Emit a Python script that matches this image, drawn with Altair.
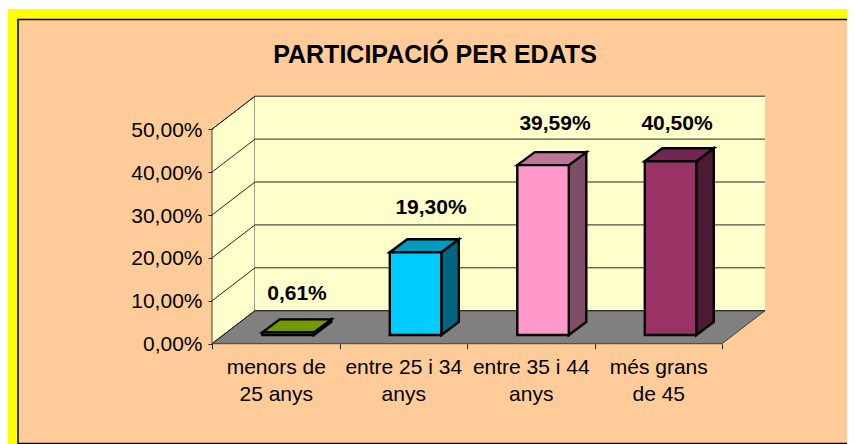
import json
import altair as alt
import pandas as pd

title_text = "PARTICIPACIÓ PER EDATS"
categories = [["menors de", "25 anys"], ["entre 25 i 34", "anys"], ["entre 35 i 44", "anys"], ["més grans", "de 45"], ""]
values = [0.61, 19.30, 39.59, 40.50]
y_ticks = [0, 10, 20, 30, 40, 50]
x_ticks = [0, 1, 2, 3, 4]
front_colors = ["#99CC00", "#00CCFF", "#FF99CC", "#993366"]
top_colors = ["#739900", "#0099BF", "#BF7399", "#732650"]
side_colors = ["#4D6600", "#006680", "#804D66", "#4D1A33"]

FONT = "Liberation Sans"
W, H = 839, 436
X0, UX = 204.0, 127.5      # canvas px of category 0, px per category
Y0, UY = 335.7, 4.29       # canvas px of 0 %, px per 1 %
X_DOM = [-X0 / UX, (W - X0) / UX]
Y_DOM = [(Y0 - H) / UY, Y0 / UY]
DX, DY = 43 / UX, 33 / UY  # floor depth in data units
BAR_X, BAR_W = 0.3945, 0.404
BAR_BASE = 8.7 / UY
BDX, BDY = 17.5 / UX, 13 / UY

xs = alt.Scale(domain=X_DOM, nice=False, zero=False)
ys = alt.Scale(domain=Y_DOM, nice=False, zero=False)

x_axis = alt.Axis(
    values=x_ticks, offset=-(H - Y0), domain=False, grid=False, tickColor="#262626", tickSize=5,
    labelExpr=json.dumps(categories) + "[datum.value]", labelFont=FONT, labelFontSize=21, labelColor="#000000",
    labelOffset=UX / 2, labelPadding=8, labelLineHeight=26.5, labelAlign="center", labelFlush=False,
    labelOverlap=False, labelBaseline="top", zindex=1, title=None)
y_axis = alt.Axis(
    values=y_ticks, offset=-X0, domain=False, grid=False, tickColor="#262626", tickSize=4,
    labelExpr="replace(format(datum.value, '.2f'), '.', ',') + '%'", labelFont=FONT, labelFontSize=21,
    labelColor="#000000", labelPadding=6, labelOffset=1, labelFlush=False, labelOverlap=False, zindex=1, title=None)


def px_x(p):
    return (p - 8 - X0) / UX


def px_y(p):
    return (Y0 - (p - 8)) / UY


def enc(chart, **extra):
    return chart.encode(
        x=alt.X("x:Q", scale=xs, axis=x_axis),
        y=alt.Y("y:Q", scale=ys, axis=y_axis),
        **extra,
    )


def face(rows, fill, stroke, sw):
    df = pd.DataFrame(rows, columns=["x", "y", "y2"])
    return enc(
        alt.Chart(df).mark_area(fill=fill, stroke=stroke, strokeWidth=sw, orient="vertical",
                                interpolate="linear", strokeJoin="miter"),
        y2="y2:Q",
    )


def box(x0, x1, y0, y1, fill, stroke=None, sw=0):
    df = pd.DataFrame([dict(x=x0, x2=x1, y=y0, y2=y1)])
    kw = dict(stroke=stroke, strokeWidth=sw) if stroke else dict(strokeWidth=0)
    return enc(alt.Chart(df).mark_rect(fill=fill, **kw), x2="x2:Q", y2="y2:Q")


layers = [
    box(X_DOM[0], X_DOM[1] + 1, px_y(9), Y_DOM[0] - 1, "#FFFF00"),
    box(px_x(18), X_DOM[1] + 1, px_y(19.5), px_y(443.5), "#FFCC99", "#000000", 1.5),
]

# walls and floor
WALL = "#FFFFCC"
layers.append(face([(0, 0, 50), (DX, DY, 50 + DY)], WALL, "#404040", 1))
layers.append(box(DX, 4 + DX, DY, 50 + DY, WALL))
layers.append(face([(0, 0, 0), (DX, DY, 0), (4, DY, 0), (4 + DX, DY, DY)], "#808080", "#404040", 1))

# gridlines on both walls
grid = []
for t in y_ticks:
    grid += [dict(t=t, x=0, y=t), dict(t=t, x=DX, y=t + DY), dict(t=t, x=4 + DX, y=t + DY)]
layers.append(enc(alt.Chart(pd.DataFrame(grid)).mark_line(color="#262626", strokeWidth=1), detail="t:N"))

# bars
BSW = 2.4
for i, v in enumerate(values):
    l = i + BAR_X
    r = l + BAR_W
    b = BAR_BASE
    t = BAR_BASE + v
    layers.append(face([(r, b, t), (r + BDX, b + BDY, t + BDY)], side_colors[i], "#000000", BSW))
    layers.append(face([(l, t, t), (l + BDX, t + BDY, t), (r, t + BDY, t), (r + BDX, t + BDY, t + BDY)],
                       top_colors[i], "#000000", BSW))
    layers.append(box(l, r, b, t, front_colors[i], "#000000", BSW))

# data labels (Excel placed them by hand)
label_x = [297, 431, 555, 677]
label_base = [300, 214, 130, 130]
for i, v in enumerate(values):
    df = pd.DataFrame([dict(x=px_x(label_x[i]), y=px_y(label_base[i]), text=f"{v:.2f}".replace(".", ",") + "%")])
    layers.append(enc(alt.Chart(df).mark_text(font=FONT, fontSize=21, fontWeight="bold", color="#000000",
                                              align="center", baseline="alphabetic"), text="text:N"))

chart = alt.layer(*layers).properties(
    width=W, height=H, padding=0, background="#FFFFFF",
    autosize=alt.AutoSizeParams(type="none"),
    title=alt.TitleParams(title_text, font=FONT, fontSize=25, fontWeight="bold", color="#000000",
                          anchor="middle", dx=7.5, dy=64),
).configure_view(stroke=None)

chart.save("out.html", embed_options={"renderer": "svg", "actions": False})
